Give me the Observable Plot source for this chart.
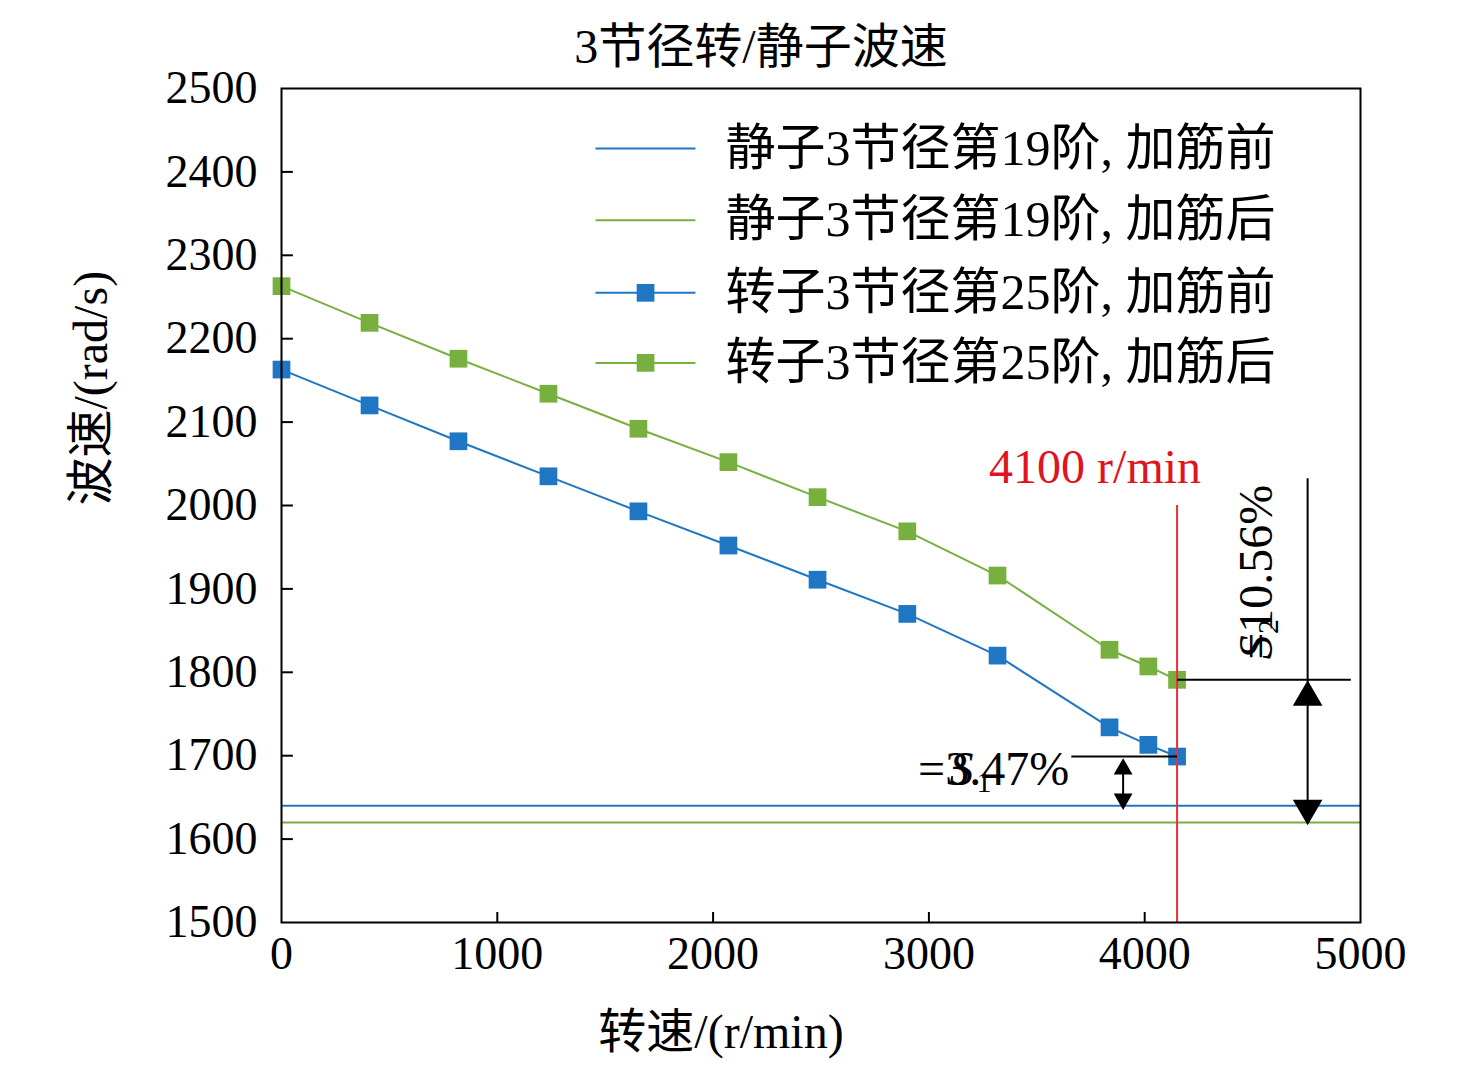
<!DOCTYPE html>
<html><head><meta charset="utf-8">
<script src="https://cdn.jsdelivr.net/npm/d3@7"></script>
<script src="https://cdn.jsdelivr.net/npm/@observablehq/plot@0.6"></script>
<style>body{margin:0;background:#fff}</style>
</head><body><div id="c"></div>
<script>
const speed = [0, 408, 820, 1237, 1654, 2071, 2484, 2900, 3318, 3837, 4017, 4150];
const rotorBefore = [2163, 2120, 2077, 2035, 1993, 1952, 1911, 1870, 1820, 1734, 1713, 1699];
const rotorAfter = [2263, 2219, 2176, 2134, 2092, 2052, 2010, 1969, 1916, 1827, 1807, 1791];
const statorBefore = 1640, statorAfter = 1620;
const legendLabels = ["静子3节径第19阶, 加筋前","静子3节径第19阶, 加筋后","转子3节径第25阶, 加筋前","转子3节径第25阶, 加筋后"];
const blue = "#1f77c4", green = "#78b040";
const F = "'Liberation Serif','Noto Sans CJK SC',serif";
const rb = speed.map((x,i)=>({x,y:rotorBefore[i]}));
const ra = speed.map((x,i)=>({x,y:rotorAfter[i]}));
const legY = [2428, 2342, 2255, 2171];
const legColor = [blue, green, blue, green];
const leg = legendLabels.map((t,i)=>({t,y:legY[i],c:legColor[i],m:i>=2}));
const p = Plot.plot({
  width:1476, height:1083,
  marginLeft:281, marginRight:116, marginTop:88, marginBottom:161,
  style:{fontFamily:F, fontSize:"46px", color:"#000", background:"#fff"},
  x:{domain:[0,5000], ticks:[0,1000,2000,3000,4000,5000], tickSize:0, tickPadding:14, tickFormat:d=>String(d), label:null},
  y:{domain:[1500,2500], ticks:d3.range(1500,2501,100), tickSize:0, tickPadding:24, tickFormat:d=>String(d), label:null},
  marks:[
    Plot.ruleX([1000,2000,3000,4000],{y1:1500, y2:1512, stroke:"#000", strokeWidth:2}),
    Plot.ruleY(d3.range(1600,2500,100),{x1:0, x2:55, stroke:"#000", strokeWidth:2}),
    Plot.ruleY([statorBefore],{stroke:blue, strokeWidth:2}),
    Plot.ruleY([statorAfter],{stroke:green, strokeWidth:2}),
    Plot.line(rb,{x:"x",y:"y",stroke:blue,strokeWidth:2}),
    Plot.line(ra,{x:"x",y:"y",stroke:green,strokeWidth:2}),
    Plot.dot(rb,{x:"x",y:"y",symbol:"square",r:10,fill:blue}),
    Plot.dot(ra,{x:"x",y:"y",symbol:"square",r:10,fill:green}),
    Plot.ruleX([4150],{y1:1500,y2:2000,stroke:"#e8303a",strokeWidth:2}),
    Plot.text(["4100 r/min"],{x:4150,y:2045,dx:24,text:d=>d,fill:"#e0141e",textAnchor:"end",fontSize:48}),
    // S1
    Plot.link([{x1:3660,x2:4150,y:1699}],{x1:"x1",x2:"x2",y1:"y",y2:"y",stroke:"#000",strokeWidth:2}),
    Plot.ruleX([3900],{y1:1690,y2:1648,stroke:"#000",strokeWidth:2}),
    Plot.dot([{x:3900,y:1684,r:0},{x:3900,y:1648,r:180}],{x:"x",y:"y",symbol:"triangle",r:7,fill:"#000",rotate:"r"}),
    Plot.text(["S"],{x:3095,y:1683,text:d=>d,textAnchor:"start",fontSize:48,fontStyle:"italic"}),
    Plot.text(["1"],{x:3220,y:1668,text:d=>d,textAnchor:"start",fontSize:30}),
    Plot.text(["=3.47%"],{x:3650,y:1683,text:d=>d,textAnchor:"end",fontSize:48}),
    // S2
    Plot.link([{x1:4150,x2:4955,y:1791}],{x1:"x1",x2:"x2",y1:"y",y2:"y",stroke:"#000",strokeWidth:2}),
    Plot.ruleX([4755],{y1:2032,y2:1630,stroke:"#000",strokeWidth:2}),
    Plot.dot([{x:4755,y:1770,r:0},{x:4755,y:1637,r:180}],{x:"x",y:"y",symbol:"triangle",r:11,fill:"#000",rotate:"r"}),
    Plot.text(["S"],{x:4520,y:1830,text:d=>d,rotate:-90,fontSize:48,fontStyle:"italic"}),
    Plot.text(["2"],{x:4575,y:1855,text:d=>d,rotate:-90,fontSize:30}),
    Plot.text(["=10.56%"],{x:4520,y:1815,text:d=>d,rotate:-90,textAnchor:"start",fontSize:48}),
    // legend
    Plot.link(leg,{x1:1455,x2:1918,y1:"y",y2:"y",stroke:"c",strokeWidth:2}),
    Plot.dot(leg.filter(d=>d.m),{x:1687,y:"y",symbol:"square",r:10,fill:"c"}),
    Plot.text(leg,{x:2057,y:"y",text:"t",textAnchor:"start",fontSize:50}),
    Plot.frame({stroke:"#000",strokeWidth:2}),
    Plot.text(["3节径转/静子波速"],{frameAnchor:"top",dy:-60,dx:-60,text:d=>d,fontSize:48}),
    Plot.text(["转速/(r/min)"],{frameAnchor:"bottom",dy:125,dx:-100,text:d=>d,fontSize:48}),
    Plot.text(["波速/(rad/s)"],{frameAnchor:"left",dx:-190,dy:0,rotate:-90,text:d=>d,fontSize:48})
  ]
});
document.getElementById("c").appendChild(p);
</script></body></html>
